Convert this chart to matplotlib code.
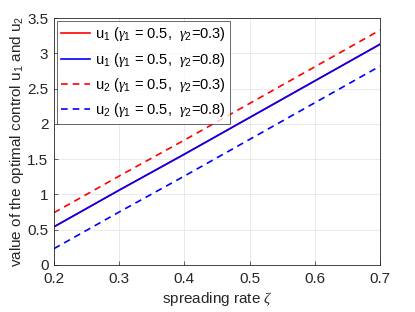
import matplotlib
matplotlib.use('Agg')
import matplotlib.pyplot as plt

plt.rcParams['font.family'] = ['Liberation Sans', 'DejaVu Sans']
plt.rcParams['mathtext.fontset'] = 'custom'
plt.rcParams['mathtext.rm'] = 'Liberation Sans'
plt.rcParams['mathtext.it'] = 'Liberation Serif:italic'

zeta = [0.2, 0.3, 0.4, 0.5, 0.6, 0.7]
u1_g03 = [0.54, 1.06, 1.57, 2.09, 2.61, 3.13]
u1_g08 = [0.54, 1.06, 1.57, 2.09, 2.61, 3.13]
u2_g03 = [0.74, 1.26, 1.77, 2.29, 2.81, 3.33]
u2_g08 = [0.23, 0.75, 1.26, 1.78, 2.30, 2.82]

fig = plt.figure(figsize=(4.15, 3.12), dpi=100)
ax = fig.add_axes([0.130, 0.151, 0.786, 0.791])

ax.plot(zeta, u1_g03, color='red', linestyle='-', linewidth=1.2,
        label=r'u$_1$ ($\gamma_1$ = 0.5,  $\gamma_2$=0.3)')
ax.plot(zeta, u1_g08, color='blue', linestyle='-', linewidth=1.2,
        label=r'u$_1$ ($\gamma_1$ = 0.5,  $\gamma_2$=0.8)')
ax.plot(zeta, u2_g03, color='red', linestyle=(0, (4, 3)), linewidth=1.2,
        label=r'u$_2$ ($\gamma_1$ = 0.5,  $\gamma_2$=0.3)')
ax.plot(zeta, u2_g08, color='blue', linestyle=(0, (4, 3)), linewidth=1.2,
        label=r'u$_2$ ($\gamma_1$ = 0.5,  $\gamma_2$=0.8)')

ax.set_xlim(0.2, 0.7)
ax.set_ylim(0, 3.5)
ax.set_xticks([0.2, 0.3, 0.4, 0.5, 0.6, 0.7])
ax.set_yticks([0, 0.5, 1, 1.5, 2, 2.5, 3, 3.5])
ax.set_xticklabels(['0.2', '0.3', '0.4', '0.5', '0.6', '0.7'])
ax.set_yticklabels(['0', '0.5', '1', '1.5', '2', '2.5', '3', '3.5'])
ax.grid(True, color='#e6e6e6', linewidth=0.6)
ax.set_axisbelow(True)
ax.tick_params(labelsize=11, colors='#262626', direction='in', length=3, width=0.5)
ax.tick_params(axis='x', pad=5)
ax.tick_params(axis='y', pad=4)
for s in ax.spines.values():
    s.set_color('#262626')
    s.set_linewidth(0.6)

ax.set_xlabel(r'spreading rate $\zeta$', fontsize=11, color='#262626', labelpad=3)
ax.set_ylabel(r'value of the optimal control u$_1$ and u$_2$', fontsize=11, color='#262626', labelpad=1)

leg = ax.legend(loc='upper left', fontsize=10.5, frameon=True, fancybox=False,
                edgecolor='#262626', borderpad=0.3, labelspacing=0.5,
                handlelength=2.0, handletextpad=0.3, borderaxespad=0.2)
leg.get_frame().set_linewidth(0.6)

plt.savefig('out.png', dpi=100)
